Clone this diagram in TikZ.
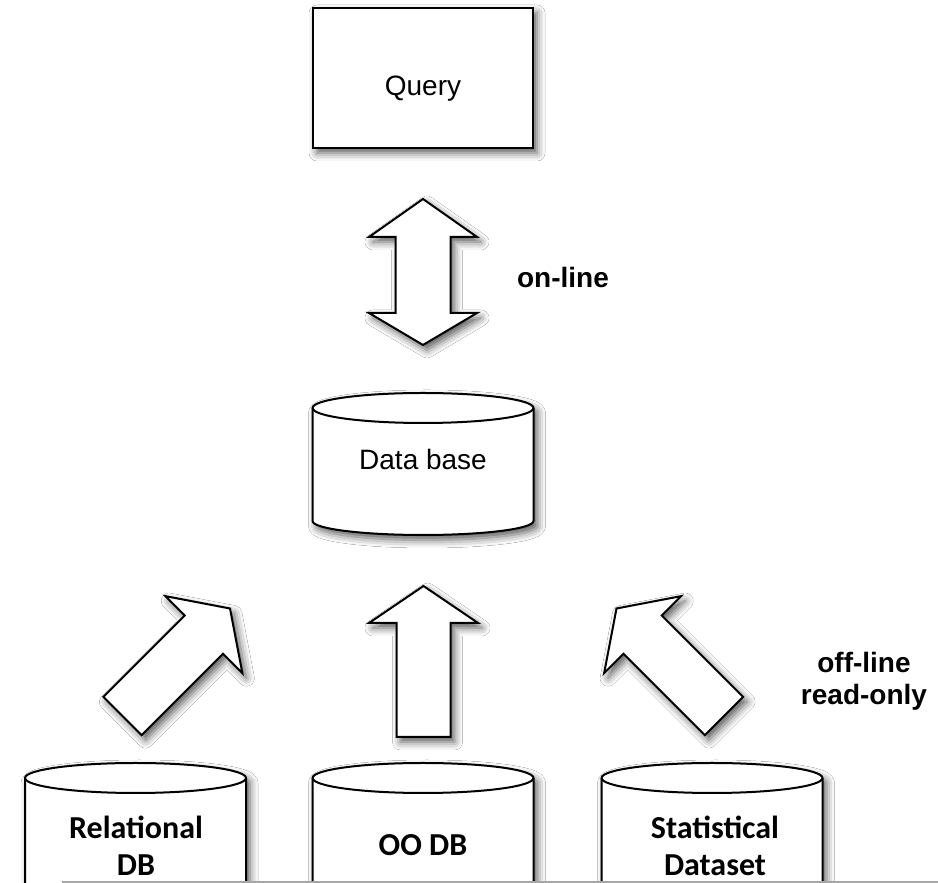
\documentclass[tikz,border=0pt]{standalone}
\usepackage{fontspec}
\setmainfont{Liberation Sans}
\newfontfamily\calib{Carlito}
\usetikzlibrary{calc,shadows.blur}

\tikzset{
  soft/.style={blur shadow={shadow xshift=4pt,shadow yshift=-5pt,shadow blur radius=8pt,shadow opacity=65}},
  outline/.style={draw=black,line width=2pt,fill=white,line join=miter},
  lbl/.style={font=\fontsize{28}{32}\selectfont},
  boldlbl/.style={font=\fontsize{28}{32}\selectfont\bfseries,align=center},
  dblbl/.style={font=\calib\bfseries\fontsize{32}{37}\selectfont,align=center,inner sep=0pt}
}

% drum: centre x, top Y, bottom Y
\newcommand{\drum}[3]{%
  \draw[outline,soft] (#1-110.5,#2) -- (#1-110.5,#3)
    arc[start angle=180,end angle=360,x radius=110.5,y radius=14]
    -- (#1+110.5,#2)
    arc[start angle=0,end angle=180,x radius=110.5,y radius=15] -- cycle;
  \draw[line width=2pt] (#1-110.5,#2) arc[start angle=180,end angle=360,x radius=110.5,y radius=15];
}

% fat arrow: tail, tip
\newcommand{\fatarrow}[2]{%
  \coordinate (hb) at ($(#2)!37pt!(#1)$);
  \draw[outline,soft] ($(#1)!27pt!90:(#2)$) -- ($(hb)!27pt!90:(#2)$) -- ($(hb)!54.5pt!90:(#2)$) -- (#2)
    -- ($(hb)!54.5pt!-90:(#2)$) -- ($(hb)!27pt!-90:(#2)$) -- ($(#1)!27pt!-90:(#2)$) -- cycle;
}

% twin arrow: one tip, other tip
\newcommand{\twinarrow}[2]{%
  \coordinate (ha) at ($(#1)!38pt!(#2)$);
  \coordinate (hz) at ($(#2)!32pt!(#1)$);
  \draw[outline,soft] (#1) -- ($(ha)!54pt!90:(#2)$) -- ($(ha)!27.5pt!90:(#2)$)
    -- ($(hz)!27.5pt!-90:(#1)$) -- ($(hz)!54pt!-90:(#1)$) -- (#2)
    -- ($(hz)!54pt!90:(#1)$) -- ($(hz)!27.5pt!90:(#1)$)
    -- ($(ha)!27.5pt!-90:(#2)$) -- ($(ha)!54pt!-90:(#2)$) -- cycle;
}

\begin{document}
\begin{tikzpicture}[x=1pt,y=1pt]
  \useasboundingbox[fill=white] (0,0) rectangle (938,883);

  % query
  \draw[outline,soft] (313,735) rectangle (533,875);
  \node[lbl,anchor=base] (query) at (423,787) {Query};

  % on-line
  \coordinate (qlow) at (423,684);
  \coordinate (dbhigh) at (423,538);
  \twinarrow{qlow}{dbhigh}
  \node[boldlbl,anchor=base] (online) at (563,595) {on-line};

  % central data base
  \drum{423}{475}{362}
  \node[lbl,anchor=base] (central) at (423,413) {Data base};

  % off-line sources
  \foreach \x in {135.5,423,712} {
    \drum{\x}{105}{-30}
  }
  \node[dblbl] (rel) at (136,37) {Relational\\DB};
  \node[dblbl] (oodb) at (423,38) {OO DB};
  \node[dblbl] (stat) at (715,37) {Statistical\\Dataset};

  \coordinate (reltail) at (122.5,167);
  \coordinate (reltip) at (230,274.5);
  \coordinate (ootail) at (423.5,146);
  \coordinate (ootip) at (423.5,297);
  \coordinate (stattail) at (724,167);
  \coordinate (stattip) at (616.5,274.5);
  \fatarrow{reltail}{reltip}
  \fatarrow{ootail}{ootip}
  \fatarrow{stattail}{stattip}
  \node[boldlbl] (offline) at (864,202) {off-line\\read-only};

  \draw[gray!70,line width=2pt] (62,1) -- (938,1);
\end{tikzpicture}
\end{document}
